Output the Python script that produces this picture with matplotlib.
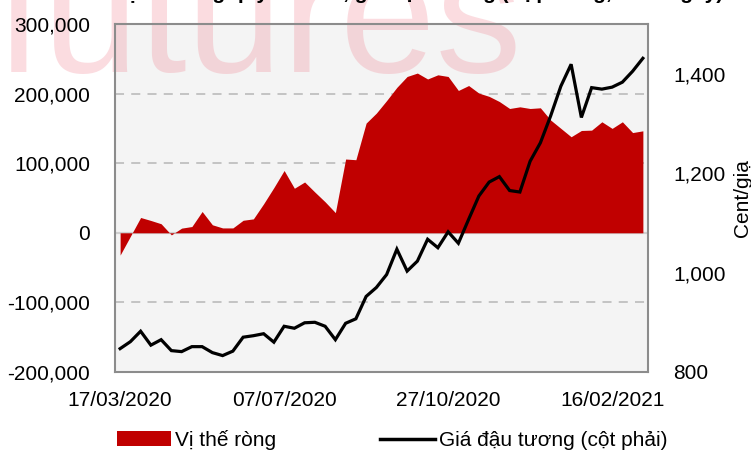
import matplotlib
matplotlib.use("Agg")
import matplotlib.pyplot as plt
import matplotlib.ticker as mticker
from matplotlib.patches import Patch
from matplotlib.lines import Line2D
import pandas as pd

plt.rcParams['font.family'] = ['Liberation Sans', 'DejaVu Sans']

# Weekly report dates (52 weeks starting 17/03/2020)
dates = pd.date_range('2020-03-17', periods=52, freq='7D')
tick_labels = ["17/03/2020", "07/07/2020", "27/10/2020", "16/02/2021"]

# Net position (contracts) - left axis
net_position = [
    -32000, -5000, 22000, 17700, 13000, -3000, 6700, 9000, 30600, 11500,
    7000, 7000, 18000, 20000, 41700, 65000, 89500, 64000, 73000, 58500,
    44500, 29000, 106000, 105000, 157600, 172000, 190000, 209000, 224600, 229500,
    221000, 227000, 224600, 204500, 211600, 200700, 196000, 188600, 178600, 181000,
    178600, 179600, 162000, 150000, 138000, 147000, 147500, 159500, 150000, 159500,
    144000, 146500,
]

# Soybean price (cent/bushel) - right axis
soy_price = [
    847, 861, 882, 854, 865, 843, 841, 851, 851, 839,
    833, 842, 870, 873, 877, 860, 892, 888, 899, 900,
    892, 865, 898, 907, 952, 970, 996, 1047, 1003, 1023,
    1067, 1050, 1082, 1059, 1107, 1154, 1182, 1193, 1165, 1162,
    1224, 1261, 1315, 1375, 1419, 1312, 1372, 1369, 1373, 1383,
    1405, 1431,
]

series_names = ["Vị thế ròng", "Giá đậu tương (cột phải)"]
right_label = "Cent/giạ"
title_text = "Vị thế ròng quỹ đầu cơ, giá đậu tương (hợp đồng, theo ngày)"

W, H = 751, 451
fig = plt.figure(figsize=(W / 100, H / 100), dpi=100)
L, R, T, B = 115, 648, 24, 372
ax = fig.add_axes([L / W, 1 - B / H, (R - L) / W, (B - T) / H])
ax.set_facecolor('#F4F4F4')

x = list(range(len(dates)))
ax.fill_between(x, 0, net_position, color='#C00000', linewidth=0, zorder=3)

ax.set_xlim(-0.5, len(dates) - 0.5)
ax.set_ylim(-200000, 300000)
ax.set_yticks([-200000, -100000, 0, 100000, 200000, 300000])
ax.yaxis.set_major_formatter(mticker.FuncFormatter(lambda v, p: f"{int(v):,}"))
for yv in [-100000, 100000, 200000]:
    ax.axhline(yv, color='#BFBFBF', linestyle=(0, (5, 4)), linewidth=1.3, zorder=1.2)
ax.axhline(0, color='#D0D0D0', linewidth=1.6, zorder=1.3)

date_str = [d.strftime('%d/%m/%Y') for d in dates]
tick_pos = [date_str.index(t) for t in tick_labels]
ax.set_xticks(tick_pos)
ax.set_xticklabels(tick_labels)

ax.tick_params(axis='both', length=0, labelsize=15, colors='black')
ax.tick_params(axis='y', pad=18)
ax.tick_params(axis='x', pad=14)
for s in ax.spines.values():
    s.set_color('#8C8C8C')
    s.set_linewidth(1.5)
    s.set_zorder(4)

# watermark (behind tick labels, above plot background)
ax.text(-4 / W, 1 - 72 / H, "futures", transform=fig.transFigure, fontsize=124,
        fontweight='normal', color='#F07585', alpha=0.25, ha='left', va='baseline',
        zorder=1.0, clip_on=False)

ax2 = ax.twinx()
ax2.plot(x, soy_price, color='black', linewidth=2.3, zorder=5, solid_joinstyle='miter')
ax2.set_ylim(800, 1500)
ax2.set_yticks([800, 1000, 1200, 1400])
ax2.yaxis.set_major_formatter(mticker.FuncFormatter(lambda v, p: f"{int(v):,}"))
ax2.tick_params(axis='y', length=0, labelsize=15, pad=18)
for s in ax2.spines.values():
    s.set_visible(False)

fig.text(733 / W, 1 - 198 / H, right_label, rotation=90, fontsize=15,
         ha='left', va='center')

handles = [Patch(facecolor='#C00000', edgecolor='none'),
           Line2D([0], [0], color='black', linewidth=2.5)]
fig.legend(handles, series_names, loc='center', bbox_to_anchor=(392 / W, 1 - 440 / H),
           ncol=2, frameon=False, fontsize=15, handlelength=2.6, handleheight=0.7,
           handletextpad=0.2, columnspacing=5.0, borderpad=0)

# title mostly above the top edge (only its lowest part shows)
fig.text(420 / W, 1 + 1 / H, title_text, fontsize=15, fontweight='bold',
         ha='center', va='baseline')

fig.savefig('out.png', dpi=100)
